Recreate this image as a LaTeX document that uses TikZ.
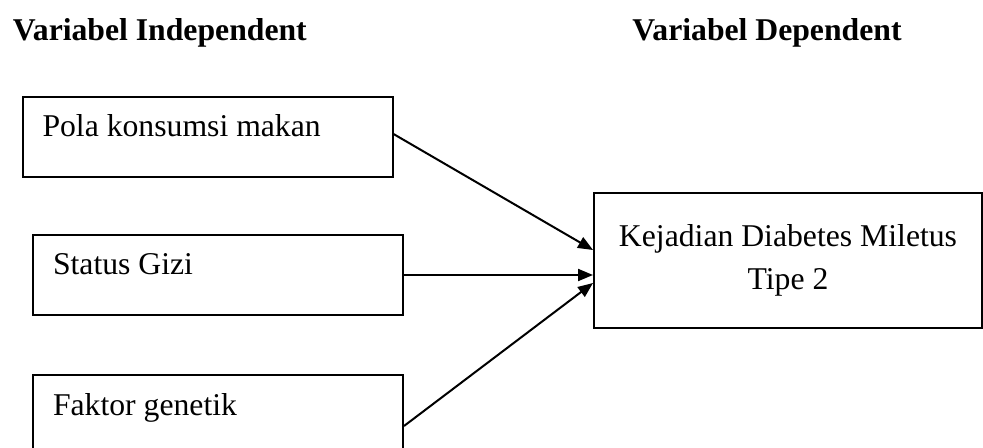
\documentclass[tikz,border=0pt]{standalone}
\usepackage{fontspec}
\setmainfont{Liberation Serif}
\usetikzlibrary{positioning,arrows.meta}

\tikzset{
  heading/.style = {font=\fontsize{15.85}{21.5}\selectfont\bfseries, anchor=base west, inner sep=0pt},
  varbox/.style  = {draw, line width=1pt, rectangle, minimum width=185pt, minimum height=40pt,
                    inner xsep=10pt, text width=165pt, align=flush left, text height=1ex, text depth=1ex},
  depbox/.style  = {draw, line width=1pt, rectangle, minimum width=194pt, minimum height=67.5pt,
                    align=center},
  link/.style    = {line width=1pt, -{Triangle[length=7.5pt,width=6pt]}}
}

\begin{document}
\begin{tikzpicture}[x=0.5pt, y=-0.5pt, font=\fontsize{15.85}{21.5}\selectfont]
    \useasboundingbox (0,0) rectangle (983,448);

    % judul kolom
    \node[heading] (indep) at (12.5,41) {Variabel Independent};
    \node[heading] (dep) at (632,41) {Variabel Dependent};

    % variabel bebas
    \node[varbox, minimum width=184.5pt] (pola) at (207.5,137) {Pola konsumsi makan};
    \node[varbox, below = 28pt of pola, xshift=5.25pt] (gizi) {Status Gizi};
    \node[varbox, below = 29pt of gizi] (genetik) {Faktor genetik};

    % variabel terikat
    \node[depbox] (dm) at (788,260.5) {Kejadian Diabetes Miletus\\Tipe 2};

    \draw[link] ([yshift=1.5pt]pola.east) -- ([yshift=5.25pt]dm.west);
    \draw[link] (gizi.east) -- (gizi.east -| dm.west);
    \draw[link] ([yshift=-5.5pt]genetik.east) -- ([yshift=-11.25pt]dm.west);
\end{tikzpicture}
\end{document}
